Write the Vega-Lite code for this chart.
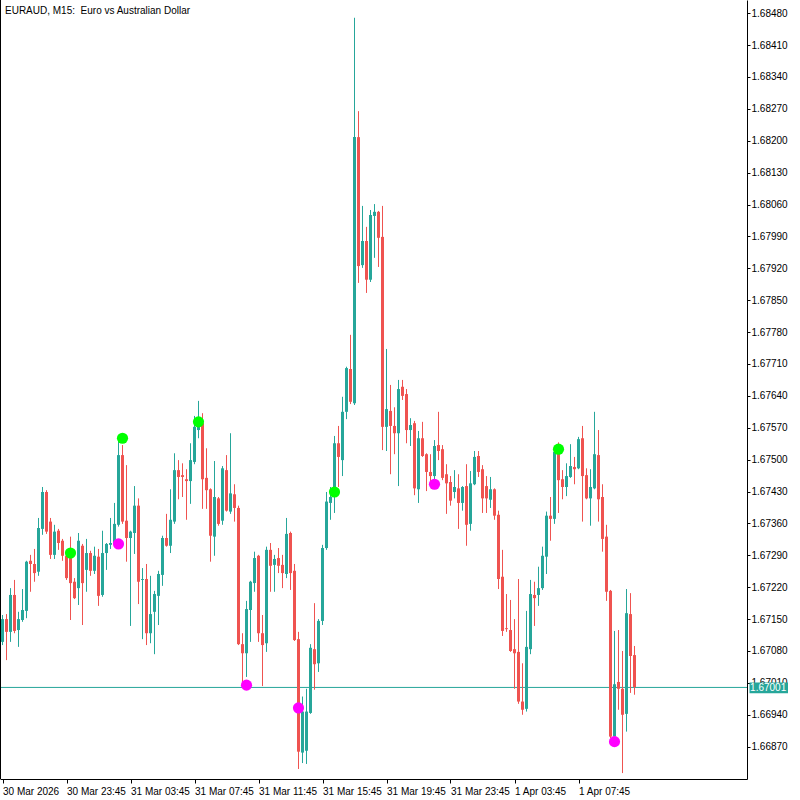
{
"$schema": "https://vega.github.io/schema/vega-lite/v6.json",
"width": 747, "height": 779,
"autosize": {"type": "none"},
"padding": {"left": 0, "top": 0, "right": 53, "bottom": 21},
"background": "white",
"config": {"view": {"stroke": null}, "axis": {"grid": false, "labelFont": "Liberation Sans", "labelFontSize": 10, "labelColor": "black", "domainColor": "black", "tickColor": "black", "labelOverlap": false}},
"datasets": {
"one": [{}],
"candles": [
{"i":0,"o":1.67100,"h":1.67159,"l":1.67093,"c":1.67150},
{"i":1,"o":1.67150,"h":1.67161,"l":1.67060,"c":1.67122},
{"i":2,"o":1.67122,"h":1.67218,"l":1.67100,"c":1.67203},
{"i":3,"o":1.67203,"h":1.67236,"l":1.67119,"c":1.67124},
{"i":4,"o":1.67126,"h":1.67166,"l":1.67089,"c":1.67150},
{"i":5,"o":1.67148,"h":1.67216,"l":1.67144,"c":1.67170},
{"i":6,"o":1.67168,"h":1.67278,"l":1.67152,"c":1.67276},
{"i":7,"o":1.67278,"h":1.67291,"l":1.67210,"c":1.67271},
{"i":8,"o":1.67271,"h":1.67304,"l":1.67232,"c":1.67251},
{"i":9,"o":1.67254,"h":1.67372,"l":1.67245,"c":1.67350},
{"i":10,"o":1.67348,"h":1.67440,"l":1.67335,"c":1.67429},
{"i":11,"o":1.67429,"h":1.67433,"l":1.67337,"c":1.67342},
{"i":12,"o":1.67364,"h":1.67372,"l":1.67282,"c":1.67291},
{"i":13,"o":1.67291,"h":1.67357,"l":1.67282,"c":1.67342},
{"i":14,"o":1.67344,"h":1.67348,"l":1.67302,"c":1.67317},
{"i":15,"o":1.67322,"h":1.67326,"l":1.67278,"c":1.67289},
{"i":16,"o":1.67289,"h":1.67302,"l":1.67236,"c":1.67240},
{"i":17,"o":1.67284,"h":1.67331,"l":1.67148,"c":1.67229},
{"i":18,"o":1.67232,"h":1.67240,"l":1.67194,"c":1.67196},
{"i":19,"o":1.67218,"h":1.67339,"l":1.67181,"c":1.67322},
{"i":20,"o":1.67311,"h":1.67315,"l":1.67137,"c":1.67229},
{"i":21,"o":1.67258,"h":1.67326,"l":1.67210,"c":1.67295},
{"i":22,"o":1.67295,"h":1.67300,"l":1.67245,"c":1.67256},
{"i":23,"o":1.67256,"h":1.67309,"l":1.67249,"c":1.67289},
{"i":24,"o":1.67287,"h":1.67304,"l":1.67179,"c":1.67201},
{"i":25,"o":1.67203,"h":1.67344,"l":1.67199,"c":1.67295},
{"i":26,"o":1.67295,"h":1.67317,"l":1.67258,"c":1.67315},
{"i":27,"o":1.67313,"h":1.67372,"l":1.67304,"c":1.67317},
{"i":28,"o":1.67317,"h":1.67405,"l":1.67313,"c":1.67359},
{"i":29,"o":1.67357,"h":1.67541,"l":1.67353,"c":1.67510},
{"i":30,"o":1.67510,"h":1.67532,"l":1.67359,"c":1.67364},
{"i":31,"o":1.67366,"h":1.67488,"l":1.67276,"c":1.67328},
{"i":32,"o":1.67328,"h":1.67344,"l":1.67135,"c":1.67342},
{"i":33,"o":1.67339,"h":1.67442,"l":1.67293,"c":1.67399},
{"i":34,"o":1.67399,"h":1.67415,"l":1.67183,"c":1.67232},
{"i":35,"o":1.67236,"h":1.67262,"l":1.67106,"c":1.67238},
{"i":36,"o":1.67238,"h":1.67271,"l":1.67093,"c":1.67119},
{"i":37,"o":1.67119,"h":1.67245,"l":1.67097,"c":1.67161},
{"i":38,"o":1.67166,"h":1.67212,"l":1.67073,"c":1.67205},
{"i":39,"o":1.67201,"h":1.67256,"l":1.67137,"c":1.67249},
{"i":40,"o":1.67247,"h":1.67333,"l":1.67223,"c":1.67328},
{"i":41,"o":1.67328,"h":1.67381,"l":1.67309,"c":1.67311},
{"i":42,"o":1.67311,"h":1.67435,"l":1.67295,"c":1.67368},
{"i":43,"o":1.67364,"h":1.67514,"l":1.67359,"c":1.67477},
{"i":44,"o":1.67477,"h":1.67499,"l":1.67413,"c":1.67462},
{"i":45,"o":1.67466,"h":1.67492,"l":1.67418,"c":1.67462},
{"i":46,"o":1.67457,"h":1.67479,"l":1.67368,"c":1.67453},
{"i":47,"o":1.67453,"h":1.67536,"l":1.67403,"c":1.67499},
{"i":48,"o":1.67495,"h":1.67596,"l":1.67490,"c":1.67572},
{"i":49,"o":1.67565,"h":1.67629,"l":1.67547,"c":1.67583},
{"i":50,"o":1.67580,"h":1.67602,"l":1.67392,"c":1.67457},
{"i":51,"o":1.67460,"h":1.67525,"l":1.67392,"c":1.67433},
{"i":52,"o":1.67435,"h":1.67437,"l":1.67276,"c":1.67333},
{"i":53,"o":1.67331,"h":1.67497,"l":1.67289,"c":1.67418},
{"i":54,"o":1.67415,"h":1.67418,"l":1.67355,"c":1.67359},
{"i":55,"o":1.67366,"h":1.67486,"l":1.67357,"c":1.67481},
{"i":56,"o":1.67477,"h":1.67510,"l":1.67386,"c":1.67388},
{"i":57,"o":1.67386,"h":1.67558,"l":1.67381,"c":1.67426},
{"i":58,"o":1.67424,"h":1.67446,"l":1.67364,"c":1.67394},
{"i":59,"o":1.67394,"h":1.67399,"l":1.67093,"c":1.67095},
{"i":60,"o":1.67095,"h":1.67119,"l":1.67012,"c":1.67075},
{"i":61,"o":1.67075,"h":1.67190,"l":1.67023,"c":1.67172},
{"i":62,"o":1.67170,"h":1.67234,"l":1.67100,"c":1.67232},
{"i":63,"o":1.67229,"h":1.67298,"l":1.67210,"c":1.67284},
{"i":64,"o":1.67289,"h":1.67291,"l":1.67100,"c":1.67119},
{"i":65,"o":1.67119,"h":1.67159,"l":1.67003,"c":1.67093},
{"i":66,"o":1.67097,"h":1.67309,"l":1.67078,"c":1.67302},
{"i":67,"o":1.67302,"h":1.67317,"l":1.67210,"c":1.67267},
{"i":68,"o":1.67269,"h":1.67291,"l":1.67210,"c":1.67282},
{"i":69,"o":1.67284,"h":1.67306,"l":1.67251,"c":1.67267},
{"i":70,"o":1.67269,"h":1.67291,"l":1.67218,"c":1.67251},
{"i":71,"o":1.67249,"h":1.67372,"l":1.67240,"c":1.67337},
{"i":72,"o":1.67339,"h":1.67342,"l":1.67214,"c":1.67251},
{"i":73,"o":1.67256,"h":1.67271,"l":1.67102,"c":1.67104},
{"i":74,"o":1.67106,"h":1.67122,"l":1.66821,"c":1.66859},
{"i":75,"o":1.66857,"h":1.66980,"l":1.66834,"c":1.66947},
{"i":76,"o":1.66861,"h":1.66997,"l":1.66832,"c":1.66947},
{"i":77,"o":1.66944,"h":1.67095,"l":1.66942,"c":1.67087},
{"i":78,"o":1.67084,"h":1.67185,"l":1.66995,"c":1.67051},
{"i":79,"o":1.67053,"h":1.67150,"l":1.67034,"c":1.67146},
{"i":80,"o":1.67146,"h":1.67313,"l":1.67137,"c":1.67306},
{"i":81,"o":1.67306,"h":1.67429,"l":1.67302,"c":1.67408},
{"i":82,"o":1.67405,"h":1.67440,"l":1.67368,"c":1.67418},
{"i":83,"o":1.67433,"h":1.67552,"l":1.67383,"c":1.67536},
{"i":84,"o":1.67536,"h":1.67574,"l":1.67440,"c":1.67506},
{"i":85,"o":1.67499,"h":1.67638,"l":1.67464,"c":1.67605},
{"i":86,"o":1.67605,"h":1.67704,"l":1.67589,"c":1.67701},
{"i":87,"o":1.67699,"h":1.67774,"l":1.67622,"c":1.67627},
{"i":88,"o":1.67624,"h":1.68470,"l":1.67620,"c":1.68208},
{"i":89,"o":1.68208,"h":1.68265,"l":1.67888,"c":1.67925},
{"i":90,"o":1.67927,"h":1.68057,"l":1.67921,"c":1.67980},
{"i":91,"o":1.67980,"h":1.68011,"l":1.67866,"c":1.67895},
{"i":92,"o":1.67895,"h":1.68048,"l":1.67890,"c":1.68037},
{"i":93,"o":1.68035,"h":1.68061,"l":1.67943,"c":1.68044},
{"i":94,"o":1.68044,"h":1.68046,"l":1.67923,"c":1.67987},
{"i":95,"o":1.67989,"h":1.68057,"l":1.67521,"c":1.67572},
{"i":96,"o":1.67572,"h":1.67743,"l":1.67519,"c":1.67611},
{"i":97,"o":1.67607,"h":1.67664,"l":1.67468,"c":1.67574},
{"i":98,"o":1.67574,"h":1.67615,"l":1.67512,"c":1.67558},
{"i":99,"o":1.67558,"h":1.67675,"l":1.67442,"c":1.67655},
{"i":100,"o":1.67660,"h":1.67675,"l":1.67631,"c":1.67640},
{"i":101,"o":1.67644,"h":1.67655,"l":1.67536,"c":1.67565},
{"i":102,"o":1.67565,"h":1.67591,"l":1.67530,"c":1.67576},
{"i":103,"o":1.67580,"h":1.67585,"l":1.67422,"c":1.67437},
{"i":104,"o":1.67435,"h":1.67563,"l":1.67405,"c":1.67547},
{"i":105,"o":1.67547,"h":1.67583,"l":1.67506,"c":1.67508},
{"i":106,"o":1.67512,"h":1.67514,"l":1.67431,"c":1.67473},
{"i":107,"o":1.67473,"h":1.67512,"l":1.67442,"c":1.67464},
{"i":108,"o":1.67464,"h":1.67543,"l":1.67455,"c":1.67530},
{"i":109,"o":1.67532,"h":1.67605,"l":1.67499,"c":1.67519},
{"i":110,"o":1.67523,"h":1.67532,"l":1.67455,"c":1.67460},
{"i":111,"o":1.67468,"h":1.67490,"l":1.67381,"c":1.67448},
{"i":112,"o":1.67451,"h":1.67464,"l":1.67399,"c":1.67410},
{"i":113,"o":1.67429,"h":1.67477,"l":1.67415,"c":1.67440},
{"i":114,"o":1.67437,"h":1.67468,"l":1.67348,"c":1.67405},
{"i":115,"o":1.67405,"h":1.67442,"l":1.67388,"c":1.67440},
{"i":116,"o":1.67442,"h":1.67490,"l":1.67311,"c":1.67357},
{"i":117,"o":1.67359,"h":1.67475,"l":1.67344,"c":1.67448},
{"i":118,"o":1.67446,"h":1.67519,"l":1.67444,"c":1.67506},
{"i":119,"o":1.67508,"h":1.67519,"l":1.67462,"c":1.67473},
{"i":120,"o":1.67479,"h":1.67488,"l":1.67383,"c":1.67415},
{"i":121,"o":1.67442,"h":1.67464,"l":1.67383,"c":1.67415},
{"i":122,"o":1.67412,"h":1.67462,"l":1.67394,"c":1.67435},
{"i":123,"o":1.67435,"h":1.67437,"l":1.67368,"c":1.67377},
{"i":124,"o":1.67379,"h":1.67388,"l":1.67216,"c":1.67238},
{"i":125,"o":1.67243,"h":1.67302,"l":1.67113,"c":1.67124},
{"i":126,"o":1.67130,"h":1.67205,"l":1.67122,"c":1.67128},
{"i":127,"o":1.67126,"h":1.67192,"l":1.67078,"c":1.67080},
{"i":128,"o":1.67084,"h":1.67150,"l":1.66997,"c":1.67075},
{"i":129,"o":1.67078,"h":1.67238,"l":1.66964,"c":1.66969},
{"i":130,"o":1.66969,"h":1.67053,"l":1.66940,"c":1.66951},
{"i":131,"o":1.66953,"h":1.67168,"l":1.66947,"c":1.67089},
{"i":132,"o":1.67084,"h":1.67236,"l":1.67073,"c":1.67205},
{"i":133,"o":1.67203,"h":1.67232,"l":1.67135,"c":1.67196},
{"i":134,"o":1.67203,"h":1.67265,"l":1.67179,"c":1.67218},
{"i":135,"o":1.67218,"h":1.67309,"l":1.67214,"c":1.67289},
{"i":136,"o":1.67287,"h":1.67386,"l":1.67249,"c":1.67377},
{"i":137,"o":1.67377,"h":1.67418,"l":1.67322,"c":1.67370},
{"i":138,"o":1.67370,"h":1.67525,"l":1.67359,"c":1.67517},
{"i":139,"o":1.67517,"h":1.67538,"l":1.67383,"c":1.67455},
{"i":140,"o":1.67457,"h":1.67477,"l":1.67413,"c":1.67440},
{"i":141,"o":1.67440,"h":1.67492,"l":1.67420,"c":1.67464},
{"i":142,"o":1.67462,"h":1.67534,"l":1.67460,"c":1.67486},
{"i":143,"o":1.67484,"h":1.67506,"l":1.67446,"c":1.67479},
{"i":144,"o":1.67481,"h":1.67550,"l":1.67479,"c":1.67545},
{"i":145,"o":1.67547,"h":1.67574,"l":1.67364,"c":1.67464},
{"i":146,"o":1.67466,"h":1.67481,"l":1.67413,"c":1.67415},
{"i":147,"o":1.67415,"h":1.67479,"l":1.67355,"c":1.67440},
{"i":148,"o":1.67437,"h":1.67605,"l":1.67435,"c":1.67512},
{"i":149,"o":1.67510,"h":1.67565,"l":1.67364,"c":1.67413},
{"i":150,"o":1.67418,"h":1.67446,"l":1.67298,"c":1.67326},
{"i":151,"o":1.67331,"h":1.67357,"l":1.67190,"c":1.67210},
{"i":152,"o":1.67212,"h":1.67214,"l":1.66889,"c":1.66892},
{"i":153,"o":1.66892,"h":1.67124,"l":1.66889,"c":1.67007},
{"i":154,"o":1.67012,"h":1.67126,"l":1.66951,"c":1.66997},
{"i":155,"o":1.66997,"h":1.67080,"l":1.66812,"c":1.66940},
{"i":156,"o":1.66942,"h":1.67216,"l":1.66903,"c":1.67163},
{"i":157,"o":1.67161,"h":1.67207,"l":1.66988,"c":1.67069},
{"i":158,"o":1.67071,"h":1.67091,"l":1.66984,"c":1.67001}
],
"dots": [
{"i":17,"p":1.67295,"k":"up"},
{"i":30,"p":1.67547,"k":"up"},
{"i":49,"p":1.67583,"k":"up"},
{"i":83,"p":1.67429,"k":"up"},
{"i":139,"p":1.67523,"k":"up"},
{"i":29,"p":1.67315,"k":"dn"},
{"i":61,"p":1.67005,"k":"dn"},
{"i":74,"p":1.66955,"k":"dn"},
{"i":108,"p":1.67446,"k":"dn"},
{"i":153,"p":1.66881,"k":"dn"}
]
},
"layer": [
{
"data": {"name": "one"},
"mark": {"type": "rule", "color": "#26A69A", "strokeWidth": 1},
"encoding": {"y": {"datum": 1.67000, "type": "quantitative", "title": null}}
},
{
"data": {"name": "candles"},
"mark": {"type": "rule", "strokeWidth": 1},
"encoding": {
"x": {"field": "i", "type": "quantitative", "title": null, "scale": {"domain": [-0.625, 186.125], "nice": false, "zero": false, "padding": 0},
"axis": {"orient": "bottom", "values": [0,16,32,48,64,80,96,112,128,144], "tickCount": 40, "labelExpr": "['30 Mar 2026','30 Mar 23:45','31 Mar 03:45','31 Mar 07:45','31 Mar 11:45','31 Mar 15:45','31 Mar 19:45','31 Mar 23:45','1 Apr 03:45','1 Apr 07:45'][round(datum.value/16)]", "labelAlign": "left", "labelBaseline": "top", "tickSize": 4, "labelPadding": 3, "labelOverlap": false, "labelBound": false, "labelFlush": false, "title": null}},
"y": {"field": "l", "type": "quantitative", "title": null, "scale": {"domain": [1.66799, 1.68509], "nice": false, "zero": false, "padding": 0},
"axis": {"orient": "right", "values": [1.6687,1.6694,1.6701,1.6708,1.6715,1.6722,1.6729,1.6736,1.6743,1.675,1.6757,1.6764,1.6771,1.6778,1.6785,1.6792,1.6799,1.6806,1.6813,1.682,1.6827,1.6834,1.6841,1.6848], "tickCount": 40, "format": ".5f", "tickSize": 3, "labelPadding": 1, "labelAlign": "left", "labelBaseline": "middle", "labelOverlap": false, "labelBound": false, "labelFlush": false, "title": null}},
"y2": {"field": "h"},
"color": {"condition": {"test": "datum.c >= datum.o", "value": "#26A69A"}, "value": "#EF5350"}
}
},
{
"data": {"name": "candles"},
"mark": {"type": "bar", "width": 3},
"encoding": {
"x": {"field": "i", "type": "quantitative", "title": null},
"y": {"field": "o", "type": "quantitative", "title": null},
"y2": {"field": "c"},
"color": {"condition": {"test": "datum.c >= datum.o", "value": "#26A69A"}, "value": "#EF5350"}
}
},
{
"data": {"name": "dots"},
"mark": {"type": "circle", "size": 125, "opacity": 1},
"encoding": {
"x": {"field": "i", "type": "quantitative", "title": null},
"y": {"field": "p", "type": "quantitative", "title": null},
"color": {"condition": {"test": "datum.k == 'up'", "value": "#00FF00"}, "value": "#FF00FF"}
}
},
{
"data": {"name": "one"},
"mark": {"type": "rule", "color": "black", "strokeWidth": 1},
"encoding": {"x": {"datum": -0.5, "type": "quantitative", "title": null}}
},
{
"data": {"name": "one"},
"mark": {"type": "rect", "color": "#26A69A", "clip": false},
"encoding": {
"x": {"datum": 186.75, "type": "quantitative", "title": null},
"x2": {"datum": 196.375},
"y": {"datum": 1.67011, "type": "quantitative", "title": null},
"y2": {"datum": 1.66987}
}
},
{
"data": {"name": "one"},
"mark": {"type": "text", "text": "1.67001", "color": "white", "align": "left", "baseline": "middle", "font": "Liberation Sans", "fontSize": 10, "clip": false},
"encoding": {
"x": {"datum": 186.9, "type": "quantitative", "title": null},
"y": {"datum": 1.66999, "type": "quantitative", "title": null}
}
},
{
"data": {"name": "one"},
"mark": {"type": "text", "text": "EURAUD, M15: \u00a0Euro vs Australian Dollar", "color": "black", "align": "left", "baseline": "middle", "font": "Liberation Sans", "fontSize": 10},
"encoding": {
"x": {"datum": 0.625, "type": "quantitative", "title": null},
"y": {"datum": 1.68485, "type": "quantitative", "title": null}
}
}
]
}
